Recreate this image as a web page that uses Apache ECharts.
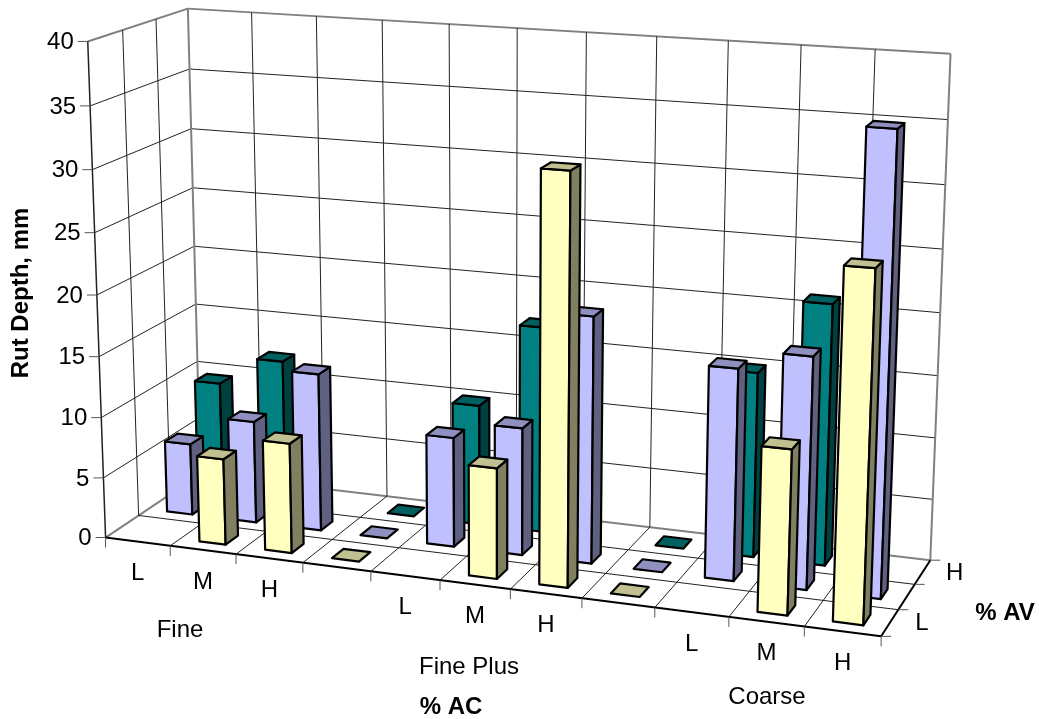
<!DOCTYPE html>
<html>
<head>
<meta charset="utf-8">
<style>html,body{margin:0;padding:0;background:#fff}#c{width:1039px;height:719px}</style>
<script src="https://cdn.jsdelivr.net/npm/echarts@6/dist/echarts.min.js"></script>
</head>
<body>
<div id="c"></div>
<script>
// ---- data ----
const categories = ['L','M','H','','L','M','H','','L','M','H'];
const groups = ['Fine','Fine Plus','Coarse'];
const avLabels = ['L','','H'];
const valueTicks = [0,5,10,15,20,25,30,35,40];
const rowFront  = [null,7.1,9,0,null,8.9,32.4,0,null,12.9,27];     // yellow
const rowMiddle = [6,8.5,13.05,0,9,10.4,19.9,0,16.9,18.4,36];  // periwinkle
const rowBack   = [9.55,12,null,0,10,17,null,0,15,21,null]; // teal
const axisTitles = {value:'Rut Depth, mm', cat:'% AC', row:'% AV'};

// ---- view calibration: [category pos, depth row, value] -> picture point ----
const W = 1039, H = 719, NC = categories.length, NR = 3, VMAX = 40;
const calib = [
 [0,0,0,107,537],[0,0,40,87,41],[0,3,40,187.3,8.3],[0,3,0,199,474.5],
 [11,3,0,930.7,560],[11,3,40,950.7,53.3],[11,0,0,881.3,636.7],
 [4,0,0,371,571.7],[5,0,0,440,580],[6,0,0,510,589],[7,0,0,581.7,598.3],
 [1,3,40,251.7,12.7],[2,3,40,316.7,16.7],[9,3,40,801.7,45],[10,3,40,875.7,50],
 [0,0,35,90,106],[0,3,35,190,69],[11,3,35,946.7,119.3],[11,3,30,945,184.3],[0,3,30,192,128.3],[0,0,30,92,170]
];
function solveView(){
  const A=[],b=[];
  calib.forEach(([x,z,v,u,w])=>{
    const X=x/NC,Y=v/VMAX,Z=z/NR;
    A.push([X,Y,Z,1,0,0,0,0,-u*X,-u*Y,-u*Z]);b.push(u);
    A.push([0,0,0,0,X,Y,Z,1,-w*X,-w*Y,-w*Z]);b.push(w);
  });
  const n=11,M=[];
  for(let i=0;i<n;i++){M.push(new Array(n+1).fill(0));
    for(let j=0;j<n;j++)for(let k=0;k<A.length;k++)M[i][j]+=A[k][i]*A[k][j];
    for(let k=0;k<A.length;k++)M[i][n]+=A[k][i]*b[k];}
  for(let c=0;c<n;c++){let p=c;for(let r=c+1;r<n;r++)if(Math.abs(M[r][c])>Math.abs(M[p][c]))p=r;
    [M[c],M[p]]=[M[p],M[c]];
    for(let r=0;r<n;r++){if(r===c)continue;const f=M[r][c]/M[c][c];for(let j=c;j<=n;j++)M[r][j]-=f*M[c][j];}}
  return M.map((r,i)=>r[n]/r[i]);
}
const m = solveView();
function project(api,x,z,v){
  const c=api.coord([x,v]);
  const X=c[0]/W,Y=(H-c[1])/H,Z=z/NR;
  const d=m[8]*X+m[9]*Y+m[10]*Z+1;
  return [(m[0]*X+m[1]*Y+m[2]*Z+m[3])/d,(m[4]*X+m[5]*Y+m[6]*Z+m[7])/d];
}
const FONT='"Liberation Sans", Arial, sans-serif';
function txt(text,x,y,size,opts){
  return Object.assign({type:'text',style:Object.assign({text,x,y,fill:'#000',fontSize:size,fontFamily:FONT,align:'center',verticalAlign:'middle'},opts&&opts.style||{})},opts&&opts.el||{});
}
function seg(a,b,color,w){return {type:'line',shape:{x1:a[0],y1:a[1],x2:b[0],y2:b[1]},style:{stroke:color,lineWidth:w,fill:null}};}
const LABEL=24, TITLE=24;

function renderFrame(params,api){
  const P=(x,z,v)=>project(api,x,z,v), ch=[];
  const GRID='#222',FRAME='#808080',TICK='#555';
  // walls
  valueTicks.forEach(v=>{
    const edge=v===VMAX;
    ch.push(seg(P(0,NR,v),P(NC,NR,v),edge||v===0?FRAME:GRID,edge||v===0?2:1));
    ch.push(seg(P(0,0,v),P(0,NR,v),edge||v===0?FRAME:GRID,edge||v===0?2:1));
  });
  for(let i=1;i<NC;i++)ch.push(seg(P(i,NR,0),P(i,NR,VMAX),GRID,1));
  for(let r=1;r<NR;r++)ch.push(seg(P(0,r,0),P(0,r,VMAX),GRID,1));
  ch.push(seg(P(0,NR,0),P(0,NR,VMAX),FRAME,2));
  ch.push(seg(P(NC,NR,0),P(NC,NR,VMAX),FRAME,2));
  // floor
  for(let i=1;i<NC;i++)ch.push(seg(P(i,0,0),P(i,NR,0),GRID,1));
  for(let r=1;r<NR;r++)ch.push(seg(P(0,r,0),P(NC,r,0),GRID,1));
  // axes
  ch.push(seg(P(0,0,0),P(0,0,VMAX),'#222',1.5));
  ch.push(seg(P(0,0,0),P(NC,0,0),'#000',2));
  ch.push(seg(P(NC,0,0),P(NC,NR,0),'#000',2));
  // value ticks + labels
  valueTicks.forEach(v=>{
    const p=P(0,0,v);
    ch.push(seg([p[0]-10,p[1]],p,TICK,1));
    ch.push(txt(String(v),p[0]-14,p[1]+1,LABEL,{style:{align:'right'}}));
  });
  // category ticks + labels
  for(let i=0;i<=NC;i++){const p=P(i,0,0);ch.push(seg(p,[p[0],p[1]+10],TICK,1));}
  categories.forEach((c,i)=>{ if(c){const p=P(i+.5,0,0);ch.push(txt(c,p[0],p[1]+32,LABEL));}});
  // row ticks + labels
  for(let r=0;r<=NR;r++){const p=P(NC,r,0);ch.push(seg(p,[p[0]+10,p[1]],TICK,1));}
  avLabels.forEach((c,r)=>{ if(c){const p=P(NC,r+.5,0);ch.push(txt(c,p[0]+32,p[1]+1,LABEL));}});
  // group labels & axis titles
  ch.push(txt(groups[0],180,630,LABEL));
  ch.push(txt(groups[1],469,667,LABEL));
  ch.push(txt(groups[2],767,697,LABEL));
  ch.push(txt(axisTitles.cat,451,707,TITLE,{style:{fontWeight:'bold'}}));
  ch.push(txt(axisTitles.row,1005,613,TITLE,{style:{fontWeight:'bold'}}));
  ch.push(txt(axisTitles.value,0,0,TITLE,{style:{fontWeight:'bold'},el:{x:21,y:293,rotation:Math.PI/2}}));
  return {type:'group',children:ch};
}
const BAR=0.4;
function barRenderer(row,front,side,top){
  return function(params,api){
    const i=api.value(0),v=api.value(1);
    const x0=i+.5-BAR/2,x1=i+.5+BAR/2,z0=row+.5-BAR/2,z1=row+.5+BAR/2;
    const P=(x,z,y)=>project(api,x,z,y);
    const st=f=>({fill:f,stroke:'#000',lineWidth:2.2,lineJoin:'round'});
    const poly=(pts,f)=>({type:'polygon',shape:{points:pts},style:st(f)});
    const ch=[];
    if(v>0){
      ch.push(poly([P(x0,z0,0),P(x1,z0,0),P(x1,z0,v),P(x0,z0,v)],front));
      ch.push(poly([P(x1,z0,0),P(x1,z1,0),P(x1,z1,v),P(x1,z0,v)],side));
    }
    ch.push(poly([P(x0,z0,v),P(x1,z0,v),P(x1,z1,v),P(x0,z1,v)],top));
    return {type:'group',children:ch};
  };
}
const toData=a=>a.map((v,i)=>[i,v]).filter(d=>d[1]!==null);
function barSeries(arr,row,c,z){
  return {type:'custom',coordinateSystem:'cartesian2d',silent:true,z,clip:false,
    encode:{x:0,y:1},data:toData(arr),renderItem:barRenderer(row,c[0],c[1],c[2]),animation:false};
}
const chart=echarts.init(document.getElementById('c'),null,{width:W,height:H});
chart.setOption({
  animation:false,
  backgroundColor:'#fff',
  grid:{left:0,top:0,width:W,height:H,containLabel:false},
  xAxis:{type:'value',min:0,max:NC,show:false},
  yAxis:{type:'value',min:0,max:VMAX,interval:5,show:false},
  series:[
    {type:'custom',coordinateSystem:'cartesian2d',silent:true,z:1,clip:false,data:[[0,0]],encode:{x:0,y:1},renderItem:renderFrame,animation:false},
    barSeries(rowBack,2,['#008080','#004040','#006060'],2),
    barSeries(rowMiddle,1,['#C0C0FF','#606080','#9090C0'],3),
    barSeries(rowFront,0,['#FFFFC0','#808060','#C0C090'],4)
  ]
});
</script>
</body>
</html>
